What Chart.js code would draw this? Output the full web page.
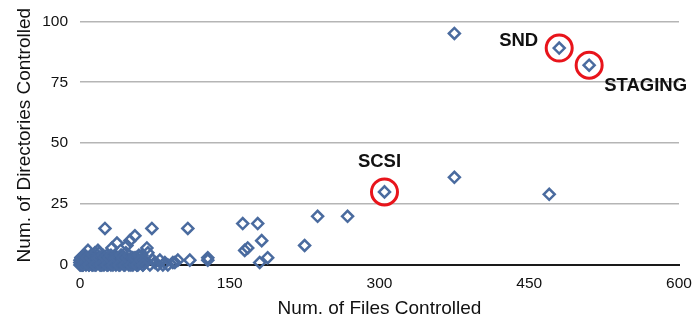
<!DOCTYPE html>
<html>
<head>
<meta charset="utf-8">
<script src="https://cdn.jsdelivr.net/npm/chart.js@4.4.0/dist/chart.umd.min.js"></script>
<style>
  html, body { margin: 0; padding: 0; background: #fff; }
  #wrap { width: 695px; height: 320px; }
</style>
</head>
<body>
<div id="wrap"><canvas id="chart"></canvas></div>
<script>
// files controlled vs directories controlled, one entry per module
const filesCtrl = [
  375, 480, 510, 305, 375, 470, 225, 238, 268, 163, 178, 168, 165, 182, 180, 188,
  128, 128, 108, 110, 98, 93, 85, 88, 72, 25, 55, 50, 37, 8, 18, 32, 47, 67, 68,
  62, 42, 27, 95, 60, 57, 52,
  0, 1, 2, 3, 4, 5, 6, 7, 8, 9, 10, 11, 12, 13, 14, 15, 16, 17, 18, 19, 20, 21,
  22, 23, 24, 25, 26, 28, 29, 30, 31, 33, 34, 35, 36, 38, 39, 40, 41, 43, 44, 45,
  46, 48, 49, 51, 53, 54, 56, 58, 59, 61, 63, 65, 70, 73, 75, 78, 80, 83,
  0, 0, 1, 2, 3, 5, 4, 6, 10, 12, 15, 20, 14, 22, 30, 35, 40, 45, 50, 57, 64
];
const dirsCtrl = [
  95, 89, 82, 30, 36, 29, 8, 20, 20, 17, 17, 7, 6, 10, 1, 3,
  3, 2, 15, 2, 2, 1, 1, 0, 15, 15, 12, 10, 9, 6, 6, 7, 8, 7, 5,
  4, 4, 4, 1, 1, 2, 3,
  0, 0, 1, 0, 2, 1, 0, 3, 1, 0, 2, 4, 1, 0, 3, 1, 0, 2, 1, 5, 0, 2,
  1, 3, 0, 1, 2, 0, 3, 1, 0, 2, 1, 4, 0, 2, 1, 0, 3, 1, 0, 2,
  5, 1, 0, 2, 0, 1, 3, 0, 1, 2, 0, 1, 0, 2, 1, 0, 2, 0,
  1, 2, 3, 0, 1, 3, 4, 2, 3, 0, 5, 3, 2, 0, 2, 1, 3, 1, 2, 0, 1
];

// the crowded small modules near the origin
const clusterFiles = [
  0, 2, 4, 6, 8, 10, 12, 14, 16, 18, 20, 22, 24, 26, 28, 30,
  32, 34, 36, 38, 40, 42, 44, 46, 48, 50, 52, 54, 56, 58, 60, 62,
  1, 3, 5, 7, 9, 11, 13, 15, 17, 19, 21, 23, 25, 27, 29, 31,
  33, 35, 37, 39, 41, 43, 45, 47, 49, 51, 53, 55, 57, 59, 61, 63
];
const clusterDirs = [
  1, 2, 1, 2, 1, 2, 1, 2, 1, 2, 1, 2, 1, 2, 1, 2,
  1, 2, 1, 2, 1, 2, 1, 2, 1, 2, 1, 2, 1, 2, 1, 2,
  3, 0, 4, 3, 0, 3, 4, 0, 3, 3, 0, 4, 3, 0, 3, 4,
  0, 3, 3, 0, 4, 3, 0, 3, 4, 0, 3, 3, 0, 4, 2, 0
];

const highlightNames = ["SND", "STAGING", "SCSI"];
const highlightFiles = [480, 510, 305];
const highlightDirs = [89, 82, 30];

const xTicks = [0, 150, 300, 450, 600];
const yTicks = [0, 25, 50, 75, 100];

const BLUE = "#4a6b9f";
const RED = "#e8141b";
const FONT = "'Liberation Sans', Arial, Helvetica, sans-serif";

const points = filesCtrl.map((x, i) => ({ x: x, y: dirsCtrl[i] }))
  .concat(clusterFiles.map((x, i) => ({ x: x, y: clusterDirs[i] })));
const hlPoints = highlightFiles.map((x, i) => ({ x: x, y: highlightDirs[i] }));

// label placement relative to the circled point
const labelPos = {
  SND: { dx: -21, dy: -7, align: "right" },
  STAGING: { dx: 15, dy: 21, align: "left" },
  SCSI: { dx: -5, dy: -30, align: "center" },
};

const labelPlugin = {
  id: "hlLabels",
  afterDatasetsDraw(chart) {
    const { ctx, scales } = chart;
    ctx.save();
    ctx.font = "bold 18.5px " + FONT;
    ctx.fillStyle = "#111";
    ctx.textBaseline = "middle";
    highlightNames.forEach((name, i) => {
      const p = labelPos[name];
      ctx.textAlign = p.align;
      const px = scales.x.getPixelForValue(highlightFiles[i]);
      const py = scales.y.getPixelForValue(highlightDirs[i]);
      ctx.fillText(name, px + p.dx, py + p.dy);
    });
    ctx.restore();
  },
};

// y title sits a little above the plot centre in the original
const yTitlePlugin = {
  id: "yTitle",
  afterDraw(chart) {
    const { ctx, chartArea } = chart;
    ctx.save();
    ctx.translate(25, (chartArea.top + chartArea.bottom) / 2 - 8);
    ctx.rotate(-Math.PI / 2);
    ctx.font = "19px " + FONT;
    ctx.fillStyle = "#111";
    ctx.textAlign = "center";
    ctx.textBaseline = "middle";
    ctx.fillText("Num. of Directories Controlled", 0, 0);
    ctx.restore();
  },
};

new Chart(document.getElementById("chart"), {
  type: "scatter",
  data: {
    datasets: [
      {
        data: hlPoints,
        pointStyle: "circle",
        pointRadius: 13,
        pointBorderWidth: 3,
        borderColor: RED,
        backgroundColor: "rgba(0,0,0,0)",
        pointHoverRadius: 13,
        clip: false,
      },
      {
        data: points,
        pointStyle: "rectRot",
        pointRadius: 5.5,
        pointBorderWidth: 2.5,
        borderColor: BLUE,
        backgroundColor: "rgba(255,255,255,0)",
        clip: false,
      },
    ],
  },
  options: {
    responsive: true,
    maintainAspectRatio: false,
    animation: false,
    layout: { padding: { top: 12, right: 15, left: 40, bottom: 0 } },
    plugins: {
      legend: { display: false },
      tooltip: { enabled: false },
    },
    scales: {
      x: {
        type: "linear",
        min: 0,
        max: 600,
        afterBuildTicks: (s) => { s.ticks = xTicks.map((v) => ({ value: v })); },
        grid: { display: false, drawTicks: false },
        border: { display: true, color: "#1a1a1a", width: 2 },
        ticks: {
          color: "#111",
          font: { family: FONT, size: 15.5 },
          padding: 9,
          maxRotation: 0,
        },
        title: {
          display: true,
          text: "Num. of Files Controlled",
          color: "#111",
          font: { family: FONT, size: 19 },
          padding: { top: 1, bottom: 0 },
        },
        afterFit: (s) => { s.height = 55; s.paddingRight = 0; s.paddingLeft = 0; },
      },
      y: {
        min: 0,
        max: 100,
        afterBuildTicks: (s) => { s.ticks = yTicks.map((v) => ({ value: v })); },
        grid: {
          drawTicks: false,
          color: (c) => (c.tick && c.tick.value === 0 ? "rgba(0,0,0,0)" : "#b5b5b5"),
          lineWidth: 1.5,
        },
        border: { display: false },
        ticks: {
          color: "#111",
          font: { family: FONT, size: 15.5 },
          padding: 12,
        },
        title: { display: false },
        afterFit: (s) => { s.width = 40; },
      },
    },
  },
  plugins: [labelPlugin, yTitlePlugin],
});
</script>
</body>
</html>
